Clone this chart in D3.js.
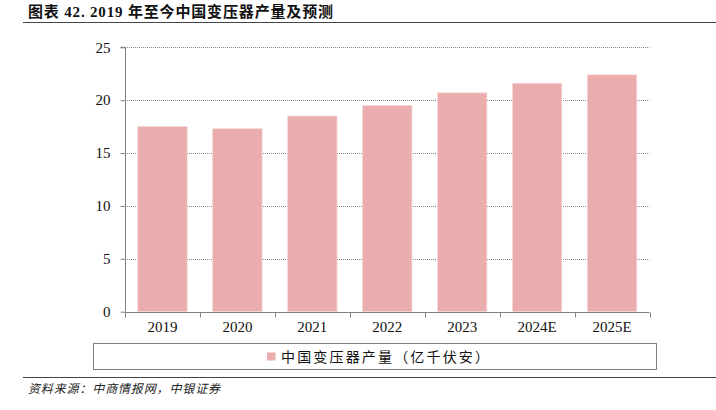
<!DOCTYPE html>
<html><head><meta charset="utf-8">
<script src="https://cdn.jsdelivr.net/npm/d3@7"></script>
<style>body{margin:0;background:#fff}svg{display:block}</style>
</head><body><svg id="c" width="716" height="410"></svg>
<script>
const categories = ["2019","2020","2021","2022","2023","2024E","2025E"];
const values = [17.5, 17.3, 18.5, 19.5, 20.7, 21.6, 22.4];
const yTicks = [0,5,10,15,20,25];
const seriesName = "中国变压器产量（亿千伏安）";
const titleText = "图表 42. 2019 年至今中国变压器产量及预测";
const sourceText = "资料来源：中商情报网，中银证券";

const svg = d3.select("#c");
const serif = "'Liberation Serif','Times New Roman',serif";
const cjk = "'Noto Sans CJK SC',sans-serif";
const barColor = "#eaacac";

// title
svg.append("text").attr("x",28).attr("y",17).attr("font-family",serif+","+cjk)
  .attr("font-size",15).attr("font-weight","bold").attr("fill","#111")
  .attr("textLength",305).attr("lengthAdjust","spacing").text(titleText);
svg.append("line").attr("x1",23).attr("x2",716).attr("y1",22.5).attr("y2",22.5)
  .attr("stroke","#444").attr("stroke-width",1.2);

const x = d3.scaleBand().domain(categories).range([125,649.5]).paddingInner(0.34).paddingOuter(0.17);
const y = d3.scaleLinear().domain([0,25]).range([311.7,47.3]);

// gridlines
svg.append("g").selectAll("line").data(yTicks.filter(d=>d>0)).join("line")
  .attr("x1",125).attr("x2",649.5).attr("y1",d=>Math.round(y(d))+0.5).attr("y2",d=>Math.round(y(d))+0.5)
  .attr("stroke","#8a8a8a").attr("stroke-width",1).attr("stroke-dasharray","1,1");

// bars
svg.append("g").selectAll("rect").data(values).join("rect")
  .attr("x",(d,i)=>x(categories[i])).attr("width",x.bandwidth())
  .attr("y",d=>y(d)).attr("height",d=>y(0)-y(d))
  .attr("fill",barColor).attr("stroke","#f6dada").attr("stroke-width",0.8);

// y axis
const ya = svg.append("g").attr("transform","translate(125.5,0)")
  .call(d3.axisLeft(y).tickValues(yTicks).tickSize(5).tickPadding(10).tickFormat(d3.format("d")));
ya.select(".domain").attr("stroke","#808080").attr("d","M-5,"+y(25)+"H0V"+y(0));
ya.selectAll(".tick line").attr("stroke","#808080");
ya.selectAll(".tick text").attr("font-family",serif).attr("font-size",15).attr("fill","#111");

// x axis
const xa = svg.append("g").attr("transform","translate(0,"+(Math.round(y(0))+0.5)+")")
  .call(d3.axisBottom(x).tickSize(0).tickPadding(9));
xa.select(".domain").attr("stroke","#808080").attr("d","M125,0H649.5");
xa.selectAll(".tick text").attr("font-family",serif).attr("font-size",15).attr("fill","#111");
const bounds = d3.range(categories.length+1).map(i=>125+ (649.5-125)*i/categories.length);
svg.append("g").selectAll("line").data(bounds).join("line")
  .attr("x1",d=>Math.round(d)+0.5).attr("x2",d=>Math.round(d)+0.5)
  .attr("y1",Math.round(y(0))+0.5).attr("y2",Math.round(y(0))+5.5).attr("stroke","#808080");

// legend
svg.append("rect").attr("x",93.5).attr("y",343.5).attr("width",563).attr("height",26)
  .attr("fill","#fff").attr("stroke","#808080");
svg.append("rect").attr("x",267).attr("y",352.5).attr("width",8.5).attr("height",8).attr("fill",barColor);
svg.append("text").attr("x",281).attr("y",361.5).attr("font-family",cjk).attr("font-size",14)
  .attr("textLength",208).attr("lengthAdjust","spacing").attr("fill","#111").text(seriesName);

// footer
svg.append("line").attr("x1",23).attr("x2",716).attr("y1",377.5).attr("y2",377.5)
  .attr("stroke","#444").attr("stroke-width",1.2);
svg.append("text").attr("x",28).attr("y",393).attr("font-family",cjk).attr("font-size",12)
  .attr("font-style","italic").attr("textLength",192).attr("lengthAdjust","spacing")
  .attr("fill","#222").text(sourceText);
</script></body></html>
